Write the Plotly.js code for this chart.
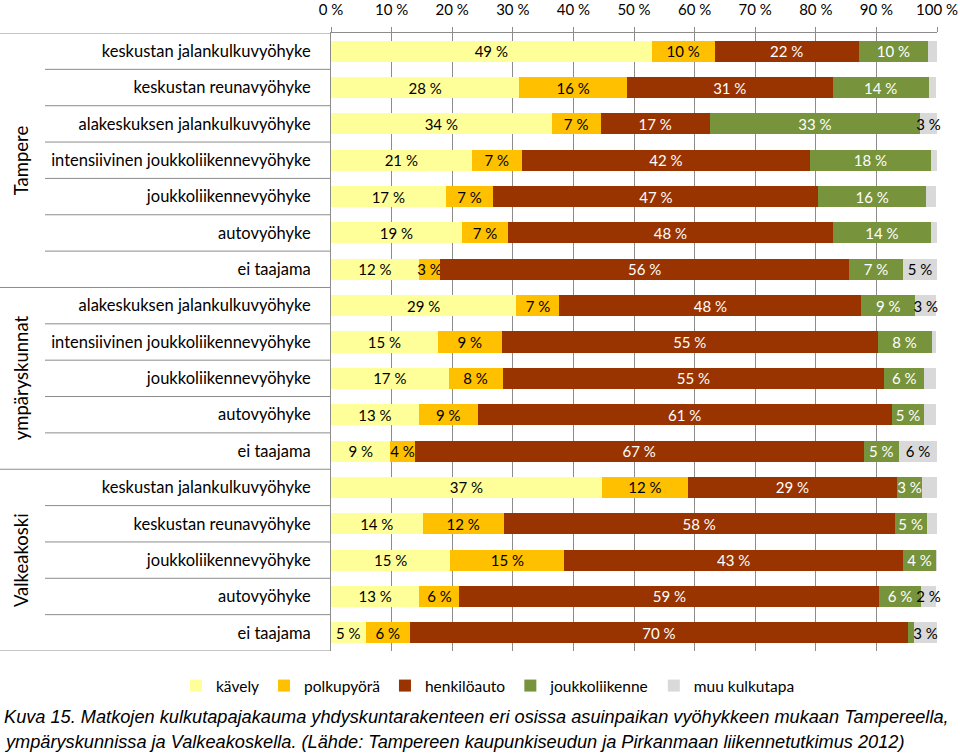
<!DOCTYPE html>
<html>
<head>
<meta charset="utf-8">
<script src="https://cdn.plot.ly/plotly-3.0.1.min.js"></script>
<style>
  html, body { margin: 0; padding: 0; background: #fff; }
  #chart { width: 960px; height: 754px; }
</style>
</head>
<body>
<div id="chart"></div>
<script>
// Row categories (top to bottom)
const categories = [
  'keskustan jalankulkuvyöhyke',
  'keskustan reunavyöhyke',
  'alakeskuksen jalankulkuvyöhyke',
  'intensiivinen joukkoliikennevyöhyke',
  'joukkoliikennevyöhyke',
  'autovyöhyke',
  'ei taajama',
  'alakeskuksen jalankulkuvyöhyke',
  'intensiivinen joukkoliikennevyöhyke',
  'joukkoliikennevyöhyke',
  'autovyöhyke',
  'ei taajama',
  'keskustan jalankulkuvyöhyke',
  'keskustan reunavyöhyke',
  'joukkoliikennevyöhyke',
  'autovyöhyke',
  'ei taajama'
];
const groups = ['Tampere', 'ympäryskunnat', 'Valkeakoski'];
const groupSizes = [7, 5, 5];

const seriesNames = ['kävely', 'polkupyörä', 'henkilöauto', 'joukkoliikenne', 'muu kulkutapa'];

// Bar shares (% of bar length)
const kavely        = [52.9, 31.1, 36.4, 23.2, 18.9, 21.6, 14.5, 30.6, 17.6, 19.4, 14.5,  9.8, 44.7, 15.1, 19.7, 14.6,  5.7];
const polkupyora    = [10.4, 17.7,  8.1,  8.3,  7.9,  7.6,  3.5,  7.1, 10.6,  8.9,  9.7,  4.0, 14.2, 13.4, 18.8,  6.6,  7.3];
const henkiloauto   = [23.8, 34.0, 18.0, 47.5, 53.6, 53.6, 67.5, 49.8, 62.0, 63.0, 68.3, 74.1, 34.5, 64.5, 55.9, 69.3, 82.2];
const joukkoliikenne= [11.4, 15.8, 34.7, 20.0, 17.8, 16.2,  8.9,  8.9,  8.9,  6.6,  5.4,  5.8,  4.1,  5.3,  5.4,  6.8,  1.0];
const muu           = [ 1.5,  1.3,  2.8,  1.0,  1.7,  1.0,  5.6,  3.5,  0.8,  2.0,  2.0,  6.3,  2.5,  1.7,  0.2,  2.6,  3.8];

// Data labels printed on the bars
const kavelyLabels   = ['49','28','34','21','17','19','12','29','15','17','13','9','37','14','15','13','5'];
const polkuLabels    = ['10','16','7','7','7','7','3','7','9','8','9','4','12','12','15','6','6'];
const autoLabels     = ['22','31','17','42','47','48','56','48','55','55','61','67','29','58','43','59','70'];
const joukkoLabels   = ['10','14','33','18','16','14','7','9','8','6','5','5','3','5','4','6',''];
const muuLabels      = ['','','3','','','','5','3','','','','6','','','','2','3'];

const xTicks = [0,10,20,30,40,50,60,70,80,90,100];
const xTickLabels = xTicks.map(v => v + ' %');

const colors = ['#FFFF99', '#FFC000', '#993300', '#77933C', '#D9D9D9'];
const textColors = ['#000000', '#000000', '#FFFFFF', '#FFFFFF', '#000000'];

const rows = categories.map((_, i) => i);
const values = [kavely, polkupyora, henkiloauto, joukkoliikenne, muu];
const labels = [kavelyLabels, polkuLabels, autoLabels, joukkoLabels, muuLabels];

const FONT = 'Lato, "Open Sans", sans-serif';

const traces = seriesNames.map((name, s) => ({
  type: 'bar',
  orientation: 'h',
  name: name,
  x: values[s],
  y: rows,
  text: labels[s].map(t => t === '' ? '' : t + ' %'),
  textposition: 'inside',
  insidetextanchor: 'middle',
  textangle: 0,
  textfont: { family: FONT, size: 15, color: textColors[s] },
  marker: { color: colors[s], line: { width: 0 } },
  hoverinfo: 'skip',
  cliponaxis: false
}));

// category divider lines and group lines
const plotLeftPx = 331;
const plotW = 606;
const plotTopPx = 33;
const plotH = 618;
const px2paper = p => (p - plotLeftPx) / plotW;
const py2paper = p => (plotTopPx + plotH - p) / plotH;
const shapes = [];
const annotations = [];
let start = 0;
groups.forEach((g, gi) => {
  const n = groupSizes[gi];
  shapes.push({ type: 'line', xref: 'paper', yref: 'y', x0: px2paper(0), x1: 0, y0: start - 0.5, y1: start - 0.5,
    line: { color: '#8c8c8c', width: 1 } });
  for (let k = 1; k < n; k++) {
    const yy = start + k - 0.5;
    shapes.push({ type: 'line', xref: 'paper', yref: 'y', x0: px2paper(45), x1: 0, y0: yy, y1: yy,
      line: { color: '#8c8c8c', width: 1 } });
  }
  annotations.push({
    xref: 'paper', yref: 'y', x: px2paper(21), y: start + (n - 1) / 2,
    text: g, showarrow: false, textangle: -90,
    font: { family: FONT, size: 18.5, color: '#000' }, xanchor: 'center', yanchor: 'middle'
  });
  start += n;
});
shapes.push({ type: 'line', xref: 'paper', yref: 'y', x0: px2paper(0), x1: 0, y0: start - 0.5, y1: start - 0.5,
  line: { color: '#8c8c8c', width: 1 } });

// caption
const CAPFONT = { family: '"Liberation Sans", Arial, sans-serif', size: 18.2, color: '#000', style: 'italic' };
annotations.push({
  xref: 'paper', yref: 'paper', x: px2paper(2), y: py2paper(717),
  xanchor: 'left', yanchor: 'middle', showarrow: false, align: 'left',
  text: 'Kuva 15. Matkojen kulkutapajakauma yhdyskuntarakenteen eri osissa asuinpaikan vyöhykkeen mukaan Tampereella,',
  font: CAPFONT
});
annotations.push({
  xref: 'paper', yref: 'paper', x: px2paper(2), y: py2paper(742),
  xanchor: 'left', yanchor: 'middle', showarrow: false, align: 'left',
  text: 'ympäryskunnissa ja Valkeakoskella. (Lähde: Tampereen kaupunkiseudun ja Pirkanmaan liikennetutkimus 2012)',
  font: CAPFONT
});

const layout = {
  width: 960, height: 754,
  margin: { l: 331, r: 23, t: 33, b: 103, pad: 0 },
  paper_bgcolor: '#ffffff', plot_bgcolor: '#ffffff',
  barmode: 'stack',
  bargap: 0.42,
  showlegend: true,
  uniformtext: { mode: 'show', minsize: 15 },
  font: { family: FONT, size: 15, color: '#000' },
  xaxis: {
    side: 'top', range: [0, 100], tickvals: xTicks, ticktext: xTickLabels,
    showgrid: true, gridcolor: '#8c8c8c', gridwidth: 1,
    showline: true, linecolor: '#8c8c8c', linewidth: 1,
    ticks: 'outside', ticklen: 5, tickcolor: '#8c8c8c',
    ticklabelstandoff: 6,
    tickfont: { family: FONT, size: 15, color: '#000' },
    zeroline: false, fixedrange: true
  },
  yaxis: {
    range: [16.5, -0.5], tickvals: rows, ticktext: categories,
    showgrid: false, zeroline: false,
    showline: true, linecolor: '#8c8c8c', linewidth: 1,
    ticks: 'outside', ticklen: 16, tickcolor: 'rgba(0,0,0,0)',
    tickfont: { family: FONT, size: 16.5, color: '#000' },
    fixedrange: true
  },
  legend: {
    orientation: 'h', traceorder: 'normal',
    x: px2paper(176), xanchor: 'left',
    y: py2paper(686), yanchor: 'middle',
    font: { family: FONT, size: 15.5, color: '#000' },
    itemwidth: 30, bgcolor: 'rgba(0,0,0,0)'
  },
  shapes: shapes,
  annotations: annotations
};

Plotly.newPlot('chart', traces, layout, { displayModeBar: false, staticPlot: true });
</script>
</body>
</html>
